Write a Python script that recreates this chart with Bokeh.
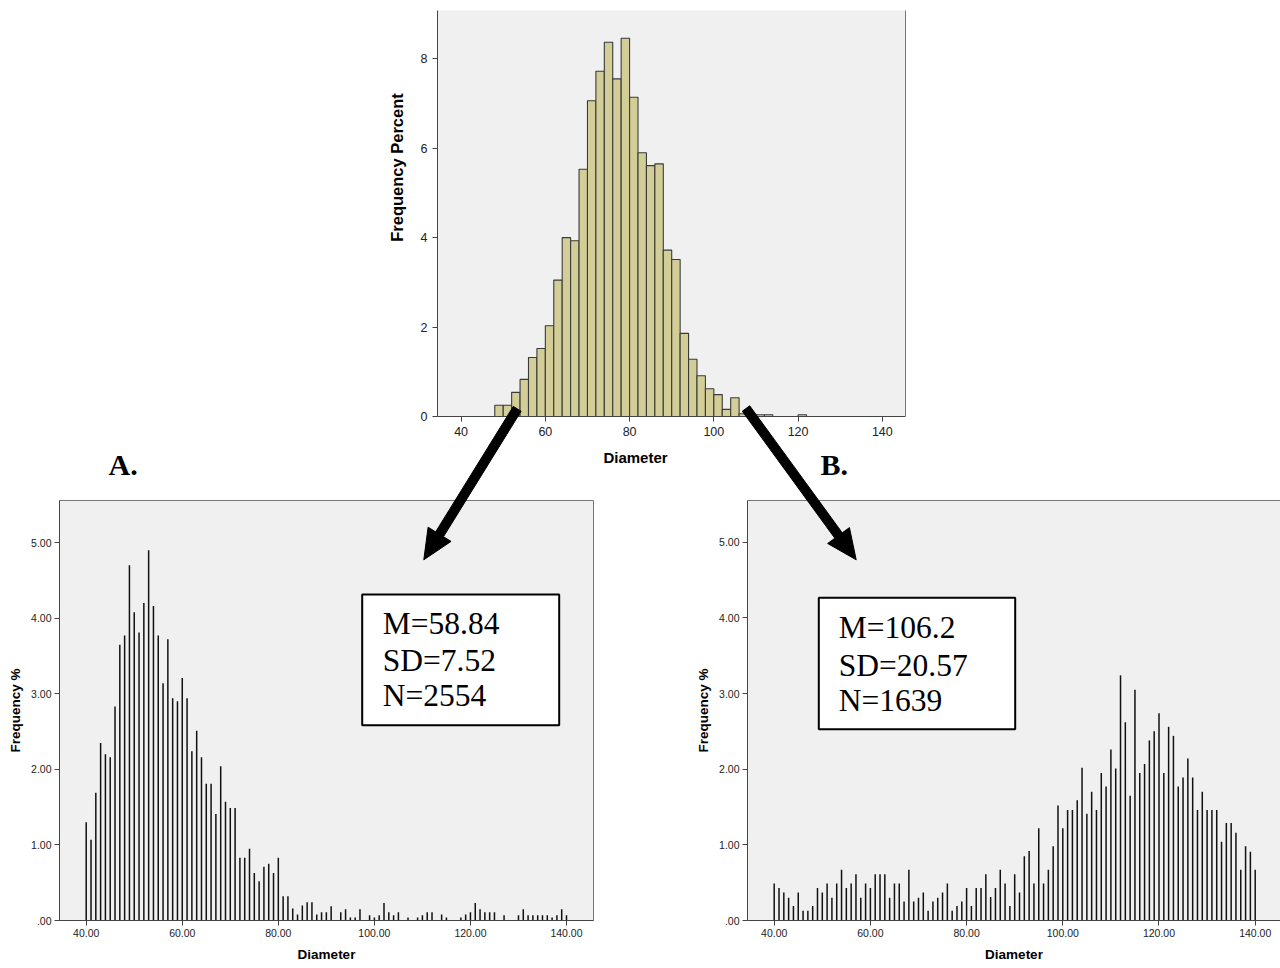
import math
from bokeh.plotting import figure
from bokeh.layouts import column, row
from bokeh.models import FixedTicker, LinearAxis, Range1d
from bokeh.core.properties import value
from bokeh.embed import file_html
from bokeh.resources import INLINE

# ---------------- data ----------------
# top histogram (bin width 2, left edges) - Frequency Percent
hist_bin_start = [48, 50, 52, 54, 56, 58, 60, 62, 64, 66, 68, 70, 72, 74, 76, 78, 80,
                  82, 84, 86, 88, 90, 92, 94, 96, 98, 100, 102, 104, 106, 110, 112, 120]
hist_percent = [0.25, 0.25, 0.54, 0.83, 1.32, 1.52, 2.03, 3.05, 4.00, 3.93, 5.53, 7.06,
                7.72, 8.37, 7.55, 8.46, 7.14, 5.90, 5.61, 5.65, 3.72, 3.51, 1.86, 1.28,
                0.91, 0.62, 0.49, 0.16, 0.42, 0.06, 0.04, 0.04, 0.04]
hist_bin_width = 2

# spike charts: diameter 40..140
diameters = list(range(40, 141))
a_pct = [
    1.30, 1.07, 1.69, 2.35, 2.20, 2.16, 2.83, 3.65, 3.77, 4.70,
    4.08, 3.81, 4.20, 4.90, 4.16, 3.77, 3.14, 3.72, 2.94, 2.90,
    3.21, 2.94, 2.24, 2.51, 2.16, 1.81, 1.81, 1.41, 2.04, 1.57,
    1.49, 1.49, 0.83, 0.83, 0.95, 0.63, 0.52, 0.71, 0.75, 0.63,
    0.83, 0.32, 0.32, 0.16, 0.08, 0.20, 0.24, 0.24, 0.08, 0.11,
    0.11, 0.19, 0.00, 0.11, 0.15, 0.04, 0.04, 0.15, 0.00, 0.07,
    0.04, 0.07, 0.23, 0.11, 0.07, 0.11, 0.00, 0.04, 0.00, 0.04,
    0.07, 0.11, 0.11, 0.00, 0.08, 0.04, 0.00, 0.00, 0.04, 0.08,
    0.11, 0.23, 0.15, 0.11, 0.11, 0.11, 0.00, 0.07, 0.00, 0.00,
    0.07, 0.15, 0.07, 0.07, 0.07, 0.07, 0.07, 0.04, 0.07, 0.15,
    0.07]
b_pct = [
    0.49, 0.43, 0.37, 0.30, 0.19, 0.37, 0.13, 0.13, 0.19, 0.43,
    0.37, 0.49, 0.30, 0.49, 0.67, 0.43, 0.49, 0.61, 0.30, 0.49,
    0.43, 0.61, 0.61, 0.61, 0.30, 0.49, 0.49, 0.25, 0.67, 0.25,
    0.30, 0.37, 0.13, 0.25, 0.30, 0.37, 0.49, 0.13, 0.19, 0.25,
    0.43, 0.19, 0.43, 0.43, 0.61, 0.31, 0.43, 0.67, 0.49, 0.19,
    0.61, 0.37, 0.85, 0.92, 0.49, 1.22, 0.49, 0.67, 0.98, 1.52,
    1.22, 1.46, 1.46, 1.59, 2.02, 1.41, 1.70, 1.46, 1.95, 1.77,
    2.26, 2.01, 3.24, 2.62, 1.65, 3.05, 1.95, 2.07, 2.38, 2.50,
    2.74, 1.95, 2.56, 2.44, 1.77, 1.89, 2.14, 1.89, 1.46, 1.70,
    1.46, 1.46, 1.46, 1.04, 1.29, 1.29, 1.16, 0.67, 0.98, 0.91,
    0.67]

top_x_ticks = [40, 60, 80, 100, 120, 140]
top_y_ticks = [0, 2, 4, 6, 8]
sub_x_ticks = [40, 60, 80, 100, 120, 140]
sub_x_labels = ["40.00", "60.00", "80.00", "100.00", "120.00", "140.00"]
sub_y_ticks = [0, 1, 2, 3, 4, 5]
sub_y_labels = [".00", "1.00", "2.00", "3.00", "4.00", "5.00"]
a_stats = ["M=58.84", "SD=7.52", "N=2554"]
b_stats = ["M=106.2", "SD=20.57", "N=1639"]
panel_tags = ["A.", "B."]

# ---------------- styling helpers ----------------
BG = "#F0F0F0"
SANS = "Liberation Sans"
SERIF = "Liberation Serif"
W, H = 1280, 968


def make_fig(w, h, xr, yr, bl, br, bt, bb):
    p = figure(width=w, height=h, x_range=Range1d(*xr), y_range=Range1d(*yr),
               output_backend="svg", toolbar_location=None,
               min_border_left=bl, min_border_right=br,
               min_border_top=bt, min_border_bottom=bb,
               background_fill_color=BG, border_fill_color="white")
    p.xgrid.visible = False
    p.ygrid.visible = False
    return p


def style_axes(p, tick_size, label_size_x, label_size_y, x_lab_standoff, y_lab_standoff,
               tick_standoff):
    for ax in (p.xaxis[0], p.yaxis[0]):
        ax.axis_line_color = "#444444"
        ax.major_tick_line_color = "#444444"
        ax.minor_tick_line_color = None
        ax.major_tick_in = 0
        ax.major_tick_out = 5
        ax.major_label_text_font = SANS
        ax.major_label_text_font_size = tick_size
        ax.major_label_text_color = "#222222"
        ax.major_label_standoff = tick_standoff
        ax.axis_label_text_font = SANS
        ax.axis_label_text_font_style = "bold"
        ax.axis_label_text_color = "#000000"
    p.xaxis[0].axis_label_text_font_size = label_size_x
    p.yaxis[0].axis_label_text_font_size = label_size_y
    p.xaxis[0].axis_label_standoff = x_lab_standoff
    p.yaxis[0].axis_label_standoff = y_lab_standoff


def border_axis(p, side):
    ax = LinearAxis(ticker=FixedTicker(ticks=[]), major_label_text_font_size="0px",
                    major_tick_line_color=None, minor_tick_line_color=None,
                    axis_line_color="#777777", axis_line_width=1)
    p.add_layout(ax, side)


# page-pixel geometry of each plot frame (page coords, y down)
TOP = dict(left=437, right=905, top=10, bottom=416, xr=(34.4, 145.5), yr=(0, 9.08))
A = dict(left=59, right=593, top=500, bottom=924, xr=(34.44, 145.62), yr=(0, 5.557))
B = dict(left=747, right=1280, top=500, bottom=920, xr=(34.45, 145.26), yr=(0, 5.551))
SPLIT = 482  # page y where the top figure ends


def px2data(g, px, py):
    sx = (g["right"] - g["left"]) / (g["xr"][1] - g["xr"][0])
    sy = (g["bottom"] - g["top"]) / (g["yr"][1] - g["yr"][0])
    return g["xr"][0] + (px - g["left"]) / sx, g["yr"][0] + (g["bottom"] - py) / sy


# ---------------- top histogram ----------------
pt = make_fig(W, SPLIT, TOP["xr"], TOP["yr"],
              TOP["left"], W - TOP["right"], TOP["top"], SPLIT - TOP["bottom"])
pt.outline_line_color = None
pt.quad(left=hist_bin_start, right=[v + hist_bin_width for v in hist_bin_start],
        top=hist_percent, bottom=0, fill_color="#D3CE97", line_color="#3A3A3A",
        line_width=1.1)
pt.xaxis.ticker = FixedTicker(ticks=top_x_ticks)
pt.yaxis.ticker = FixedTicker(ticks=top_y_ticks)
style_axes(pt, "12.5px", "15px", "16.5px", 11, 13, 5)
border_axis(pt, "right")


# ---------------- spike panels ----------------
def spike_panel(g, width, vals, stats, box, text_left, centers, origin_x):
    p = make_fig(width, H - SPLIT, g["xr"], g["yr"],
                 g["left"] - origin_x, origin_x + width - g["right"],
                 g["top"] - SPLIT, H - g["bottom"])
    p.segment(x0=diameters, y0=0, x1=diameters, y1=vals, line_color="#111111",
              line_width=1.5)
    p.xaxis.ticker = FixedTicker(ticks=sub_x_ticks)
    p.yaxis.ticker = FixedTicker(ticks=sub_y_ticks)
    p.xaxis.major_label_overrides = dict(zip(sub_x_ticks, sub_x_labels))
    p.yaxis.major_label_overrides = dict(zip(sub_y_ticks, sub_y_labels))
    p.xaxis.axis_label = "Diameter"
    p.yaxis.axis_label = "Frequency %"
    style_axes(p, "10.5px", "13.5px", "13.5px", 7, 5, 3)
    # stats box
    l, t = px2data(g, box[0], box[1])
    r, b = px2data(g, box[2], box[3])
    p.quad(left=[l], right=[r], top=[t], bottom=[b], fill_color="white",
           line_color="black", line_width=2)
    xs, ys = [], []
    for c in centers:
        x, y = px2data(g, text_left, c)
        xs.append(x)
        ys.append(y)
    p.text(x=xs, y=ys, text=stats, text_font=value(SERIF), text_font_size=value("31.5px"),
           text_color="black", text_baseline="middle", text_align="left")
    return p


pa = spike_panel(A, 640, a_pct, a_stats, (361.7, 595, 558.7, 727), 382.3,
                 (624.5, 661.3, 697.3), 0)
pa.outline_line_color = "#777777"

pb = spike_panel(B, 640, b_pct, b_stats, (818.3, 597.3, 1014.7, 728.7), 838.3,
                 (626.7, 664.7, 700.3), 640)
pb.outline_line_color = None
border_axis(pb, "above")

# ---------------- transparent overlay (arrows, panel tags, top axis titles) ----------------
ov = figure(width=W, height=H, x_range=Range1d(0, W), y_range=Range1d(H, 0),
            output_backend="svg", toolbar_location=None, x_axis_type=None,
            y_axis_type=None, min_border=0, min_border_left=0, min_border_right=0,
            min_border_top=0, min_border_bottom=0,
            background_fill_color=None, border_fill_color=None,
            outline_line_color=None)
ov.xgrid.visible = False
ov.ygrid.visible = False


def arrow_points(S, T, shaft_hw=4.6, head_len=30.0, head_hw=13.5):
    dx, dy = T[0] - S[0], T[1] - S[1]
    L = (dx * dx + dy * dy) ** 0.5
    ux, uy = dx / L, dy / L
    nx, ny = -uy, ux
    bx, by = T[0] - ux * head_len, T[1] - uy * head_len
    pts = [(S[0] + nx * shaft_hw, S[1] + ny * shaft_hw),
           (bx + nx * shaft_hw, by + ny * shaft_hw),
           (bx + nx * head_hw, by + ny * head_hw),
           (T[0], T[1]),
           (bx - nx * head_hw, by - ny * head_hw),
           (bx - nx * shaft_hw, by - ny * shaft_hw),
           (S[0] - nx * shaft_hw, S[1] - ny * shaft_hw)]
    return [p[0] for p in pts], [p[1] for p in pts]


for S, T in (((516.7, 408.3), (423.3, 559.3)), ((745.5, 408.0), (855.7, 559.3))):
    xs, ys = arrow_points(S, T)
    ov.patch(xs, ys, fill_color="black", line_color="black", line_width=1)

ov.text(x=[108, 820], y=[464, 464], text=panel_tags, text_font=value(SERIF),
        text_font_style="bold", text_font_size=value("30px"), text_color="black",
        text_baseline="middle", text_align="left")
ov.text(x=[635], y=[457], text=["Diameter"], text_font=value(SANS),
        text_font_style="bold", text_font_size=value("15px"), text_color="black",
        text_baseline="middle", text_align="center")
ov.text(x=[396], y=[167], text=["Frequency Percent"], text_font=value(SANS),
        text_font_style="bold", text_font_size=value("16.5px"), text_color="black",
        text_baseline="middle", text_align="center", angle=math.pi / 2)

ov_wrap = row(ov, spacing=0,
              styles={"position": "absolute", "top": "0px", "left": "0px",
                      "z-index": "10", "pointer-events": "none"})

layout = column(pt, row(pa, pb, spacing=0), ov_wrap, spacing=0)
open("out.html", "w").write(file_html(layout, INLINE))
